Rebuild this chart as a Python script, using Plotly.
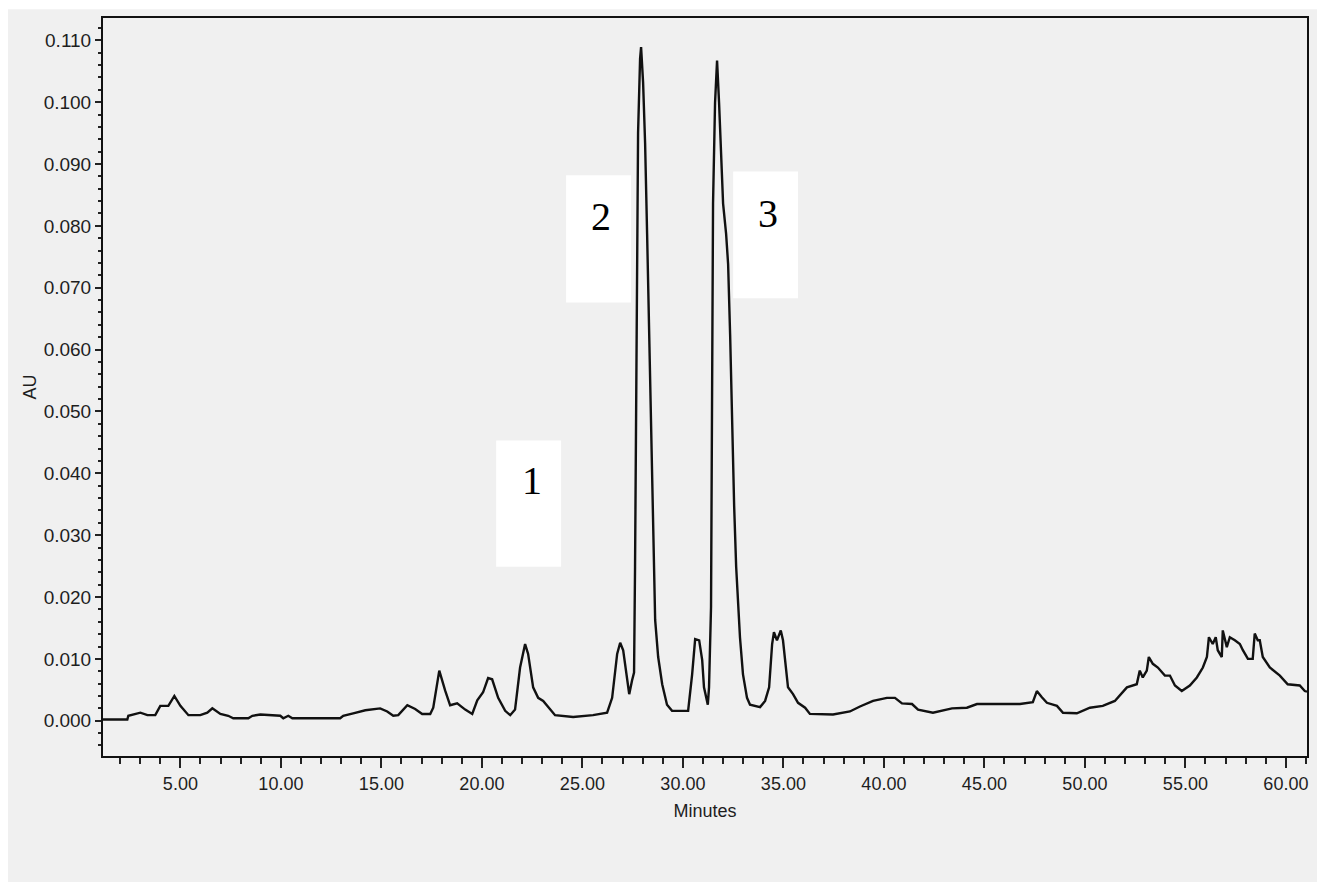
import plotly.graph_objects as go

# Retention time (minutes) and absorbance (AU)
minutes = [1.15, 2.36, 2.41, 3.01, 3.36, 3.75, 4.00, 4.40, 4.70, 5.00, 5.40, 5.99, 6.34, 6.59, 6.99, 7.38, 7.63,
           8.38, 8.58, 8.98, 9.97, 10.12, 10.37, 10.57, 12.95, 13.10, 13.60, 14.20, 14.94, 15.29, 15.59, 15.84,
           16.29, 16.68, 17.03, 17.43, 17.58, 17.88, 18.17, 18.42, 18.77, 19.17, 19.52, 19.77, 20.06, 20.31,
           20.51, 20.81, 21.16, 21.41, 21.65, 21.90, 22.15, 22.30, 22.55, 22.80, 23.05, 23.64, 24.54, 25.53,
           26.23, 26.48, 26.73, 26.88, 27.03, 27.33, 27.47, 27.57, 27.62, 27.67, 27.72, 27.77, 27.87, 27.92,
           28.02, 28.12, 28.22, 28.32, 28.42, 28.52, 28.62, 28.77, 28.97, 29.21, 29.46, 30.26, 30.46, 30.61,
           30.81, 30.96, 31.05, 31.24, 31.30, 31.40, 31.45, 31.50, 31.60, 31.70, 31.80, 31.90, 32.00, 32.15,
           32.25, 32.35, 32.45, 32.55, 32.65, 32.75, 32.84, 32.99, 33.19, 33.34, 33.84, 34.09, 34.29, 34.44,
           34.53, 34.68, 34.87, 34.98, 35.08, 35.23, 35.48, 35.73, 36.08, 36.32, 37.47, 38.31, 38.81, 39.46,
           40.15, 40.55, 40.90, 41.40, 41.70, 42.44, 43.39, 44.13, 44.63, 45.27, 46.77, 47.41, 47.61, 47.86,
           48.11, 48.61, 48.91, 49.60, 50.25, 50.89, 51.49, 52.09, 52.58, 52.73, 52.88, 53.08, 53.18, 53.38,
           53.63, 53.98, 54.23, 54.48, 54.82, 55.22, 55.57, 55.87, 56.07, 56.17, 56.36, 56.51, 56.61, 56.81,
           56.86, 57.06, 57.21, 57.46, 57.71, 57.86, 58.11, 58.35, 58.45, 58.60, 58.70, 58.85, 59.20, 59.70,
           60.09, 60.69, 60.94, 61.05]
au = [0.0002, 0.0002, 0.0008, 0.0013, 0.0009, 0.0009, 0.0024, 0.0024, 0.0040, 0.0024, 0.0009, 0.0009, 0.0013,
      0.0020, 0.0011, 0.0008, 0.0004, 0.0004, 0.0008, 0.0010, 0.0008, 0.0004, 0.0008, 0.0004, 0.0004, 0.0008,
      0.0012, 0.0017, 0.0020, 0.0015, 0.0008, 0.0009, 0.0025, 0.0019, 0.0011, 0.0011, 0.0021, 0.0081, 0.0049,
      0.0025, 0.0028, 0.0018, 0.0011, 0.0033, 0.0046, 0.0069, 0.0067, 0.0037, 0.0016, 0.0009, 0.0018, 0.0086,
      0.0124, 0.0108, 0.0054, 0.0037, 0.0032, 0.0009, 0.0006, 0.0009, 0.0013, 0.0037, 0.0108, 0.0126, 0.0114,
      0.0043, 0.0065, 0.0078, 0.0249, 0.0510, 0.0754, 0.0950, 0.1070, 0.1089, 0.1032, 0.0934, 0.0787, 0.0624,
      0.0461, 0.0298, 0.0163, 0.0103, 0.0059, 0.0026, 0.0016, 0.0016, 0.0075, 0.0132, 0.0130, 0.0098, 0.0054,
      0.0026, 0.0054, 0.0184, 0.0510, 0.0836, 0.0999, 0.1067, 0.0999, 0.0918, 0.0836, 0.0787, 0.0738, 0.0624,
      0.0478, 0.0347, 0.0249, 0.0184, 0.0135, 0.0075, 0.0037, 0.0026, 0.0022, 0.0032, 0.0054, 0.0124, 0.0143,
      0.0130, 0.0146, 0.0130, 0.0097, 0.0054, 0.0043, 0.0029, 0.0021, 0.0011, 0.0010, 0.0015, 0.0023, 0.0032,
      0.0037, 0.0037, 0.0028, 0.0027, 0.0018, 0.0013, 0.0020, 0.0021, 0.0027, 0.0027, 0.0027, 0.0030, 0.0048,
      0.0038, 0.0029, 0.0024, 0.0013, 0.0012, 0.0021, 0.0024, 0.0032, 0.0054, 0.0059, 0.0081, 0.0070, 0.0081,
      0.0103, 0.0092, 0.0086, 0.0073, 0.0073, 0.0057, 0.0048, 0.0057, 0.0070, 0.0086, 0.0103, 0.0135, 0.0124,
      0.0135, 0.0114, 0.0103, 0.0146, 0.0119, 0.0135, 0.0130, 0.0124, 0.0114, 0.0100, 0.0100, 0.0141, 0.0130,
      0.0130, 0.0103, 0.0086, 0.0073, 0.0059, 0.0057, 0.0048, 0.0047]

# Peak labels
peak_labels = ["1", "2", "3"]
peak_label_x = [22.5, 25.93, 34.24]
peak_label_y = [0.0388, 0.0815, 0.0820]
box_x0 = [20.71, 24.19, 32.50]
box_x1 = [23.94, 27.42, 35.73]
box_y0 = [0.0249, 0.0676, 0.0683]
box_y1 = [0.0453, 0.0882, 0.0888]

GREY = "#f0f0f0"
TXT = "#1e1e1e"

fig = go.Figure()
fig.add_trace(go.Scatter(x=minutes, y=au, mode="lines",
                         line=dict(color="#111111", width=2.4), hoverinfo="x+y", showlegend=False))

shapes = [dict(type="rect", xref="paper", yref="paper", x0=-0.08, x1=1.016, y0=-0.176, y1=1.012,
               fillcolor=GREY, line=dict(width=0), layer="below")]
for i in range(3):
    shapes.append(dict(type="rect", xref="x", yref="y", x0=box_x0[i], x1=box_x1[i], y0=box_y0[i], y1=box_y1[i],
                       fillcolor="white", line=dict(width=0), layer="above"))

annotations = [dict(x=peak_label_x[i], y=peak_label_y[i], xref="x", yref="y", text=peak_labels[i],
                    showarrow=False, font=dict(family="Liberation Serif, Times New Roman, serif", size=40,
                                               color="black"))
               for i in range(3)]

fig.update_layout(
    width=1317, height=874,
    paper_bgcolor="white", plot_bgcolor=GREY,
    margin=dict(l=95, r=18, t=8, b=126),
    shapes=shapes, annotations=annotations,
    font=dict(family="Liberation Sans, Arial, sans-serif", color=TXT, size=18),
)
fig.update_xaxes(
    range=[1.15, 61.05], tick0=0, dtick=5, tickformat=".2f",
    ticks="outside", ticklen=10, tickwidth=2, tickcolor="#222",
    minor=dict(dtick=1, ticks="outside", ticklen=6, tickwidth=2, tickcolor="#222"),
    showline=True, linecolor="#111", linewidth=2, mirror=True,
    showgrid=False, zeroline=False,
    title=dict(text="Minutes", font=dict(size=18, color=TXT), standoff=12),
    tickfont=dict(size=18, color=TXT),
)
fig.update_yaxes(
    range=[-0.0057, 0.1136], tick0=0, dtick=0.01, tickformat=".3f",
    ticks="outside", ticklen=6, tickwidth=2, tickcolor="#222",
    minor=dict(dtick=0.002, ticks="outside", ticklen=3, tickwidth=2, tickcolor="#222"),
    showline=True, linecolor="#111", linewidth=2, mirror=True,
    showgrid=False, zeroline=False,
    title=dict(text="AU", font=dict(size=18, color=TXT), standoff=2),
    tickfont=dict(size=19, color=TXT),
)

fig.write_html("out.html")
